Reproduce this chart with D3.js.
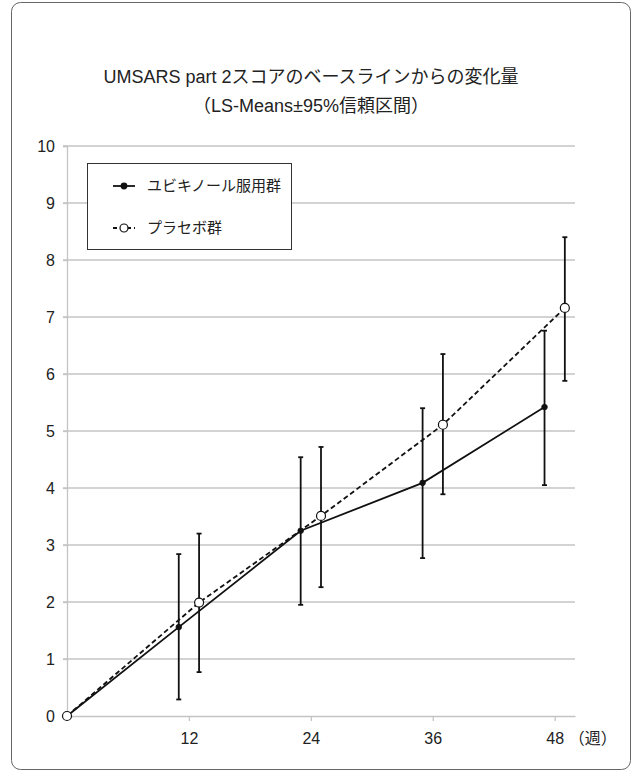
<!DOCTYPE html>
<html>
<head>
<meta charset="utf-8">
<script src="https://cdn.jsdelivr.net/npm/d3@7"></script>
<style>
  body { margin: 0; background: #fff; }
  svg text { font-family: "Liberation Sans", Arial, "Noto Sans CJK JP", sans-serif; fill: #222; }
</style>
</head>
<body>
<svg id="chart" width="632" height="772"></svg>
<script>
// 週
const weeks = [0, 12, 24, 36, 48]
const xTicks = [12, 24, 36, 48]
const yTicks = [0, 1, 2, 3, 4, 5, 6, 7, 8, 9, 10]

// ユビキノール服用群 (LS-Means と 95%CI)
const ubiMean = [0, 1.56, 3.25, 4.09, 5.42]
const ubiLow = [0, 0.29, 1.95, 2.77, 4.05]
const ubiHigh = [0, 2.84, 4.54, 5.40, 6.76]

// プラセボ群
const plaMean = [0, 1.99, 3.51, 5.11, 7.16]
const plaLow = [0, 0.77, 2.26, 3.89, 5.88]
const plaHigh = [0, 3.20, 4.72, 6.35, 8.40]

const titleLines = ['UMSARS part 2スコアのベースラインからの変化量', '（LS-Means±95%信頼区間）']
const legendNames = ['ユビキノール服用群', 'プラセボ群']

const svg = d3.select('#chart')

// 外枠
svg.append('rect')
    .attr('x', 11.5).attr('y', 2.5)
    .attr('width', 619).attr('height', 767)
    .attr('rx', 9)
    .attr('fill', '#fff')
    .attr('stroke', '#666')
    .attr('stroke-width', 1)

// タイトル
svg.selectAll('.title')
    .data(titleLines)
    .enter()
    .append('text')
    .attr('class', 'title')
    .attr('x', 311)
    .attr('y', (d, i) => 83 + i * 29)
    .attr('text-anchor', 'middle')
    .attr('font-size', 18)
    .text((d) => d)

// 比例尺
const x = d3.scaleLinear().domain([0, 50]).range([67, 575])
const y = d3.scaleLinear().domain([0, 10]).range([716, 146])

// 群ごとの横ずれ（週）
const shift = [-1, 1]

// グリッド線
svg.append('g')
    .selectAll('line')
    .data(yTicks.slice(1))
    .enter()
    .append('line')
    .attr('x1', x(0) - 4).attr('x2', x(50))
    .attr('y1', (d) => y(d)).attr('y2', (d) => y(d))
    .attr('stroke', '#c4c4c4')
    .attr('stroke-width', 1.3)

// Y軸
const yAxis = svg.append('g')
    .attr('transform', `translate(${x(0)},0)`)
    .call(d3.axisLeft(y).tickValues(yTicks).tickSize(4).tickPadding(8).tickFormat(d3.format('d')))
yAxis.select('.domain').attr('stroke', '#c4c4c4').attr('stroke-width', 1.3)
yAxis.selectAll('.tick line').attr('stroke', '#c4c4c4').attr('stroke-width', 1.3)
yAxis.selectAll('.tick text').attr('font-size', 16).attr('fill', '#222')

// X軸
const xAxis = svg.append('g')
    .attr('transform', `translate(0,${y(0)})`)
    .call(d3.axisBottom(x).tickValues(xTicks).tickSize(5).tickPadding(12).tickSizeOuter(0))
xAxis.select('.domain').attr('stroke', '#c4c4c4').attr('stroke-width', 1.3)
xAxis.selectAll('.tick line').attr('stroke', '#c4c4c4').attr('stroke-width', 1.3)
xAxis.selectAll('.tick text').attr('font-size', 16).attr('fill', '#222')

svg.append('text')
    .attr('x', x(48) + 14)
    .attr('y', y(0) + 28)
    .attr('font-size', 16)
    .text('（週）')

// 系列
const series = [
    { mean: ubiMean, low: ubiLow, high: ubiHigh, dash: null, open: false },
    { mean: plaMean, low: plaLow, high: plaHigh, dash: '5,3', open: true }
]

const line = d3.line()

series.forEach((s, k) => {
    const pts = weeks.map((w, i) => ({
        cx: x(i === 0 ? w : w + shift[k]),
        m: s.mean[i], lo: s.low[i], hi: s.high[i], i
    }))

    // 誤差棒
    const bars = svg.append('g')
    const eb = pts.filter((p) => p.i > 0)
    bars.selectAll('.v').data(eb).enter().append('line')
        .attr('x1', (p) => p.cx).attr('x2', (p) => p.cx)
        .attr('y1', (p) => y(p.lo)).attr('y2', (p) => y(p.hi))
        .attr('stroke', '#111').attr('stroke-width', 1.8)
    ;['lo', 'hi'].forEach((key) => {
        bars.selectAll('.c' + key).data(eb).enter().append('line')
            .attr('x1', (p) => p.cx - 2.5).attr('x2', (p) => p.cx + 2.5)
            .attr('y1', (p) => y(p[key])).attr('y2', (p) => y(p[key]))
            .attr('stroke', '#111').attr('stroke-width', 1.8)
    })

    // 折れ線
    svg.append('path')
        .attr('d', line(pts.map((p) => [p.cx, y(p.m)])))
        .attr('fill', 'none')
        .attr('stroke', '#111')
        .attr('stroke-width', 1.8)
        .attr('stroke-dasharray', s.dash)

    // マーカー
    svg.append('g').selectAll('circle').data(pts).enter().append('circle')
        .attr('cx', (p) => p.cx).attr('cy', (p) => y(p.m))
        .attr('r', s.open ? 4.5 : 2.8)
        .attr('fill', s.open ? '#fff' : '#111')
        .attr('stroke', '#111')
        .attr('stroke-width', s.open ? 1.2 : 0.8)
})

// 凡例
const legend = svg.append('g')
legend.append('rect')
    .attr('x', 87.5).attr('y', 163.5)
    .attr('width', 204).attr('height', 86)
    .attr('fill', '#fff')
    .attr('stroke', '#333')
    .attr('stroke-width', 1)

legendNames.forEach((name, k) => {
    const ly = 186 + k * 42
    const g = legend.append('g')
    g.append('line')
        .attr('x1', 113).attr('x2', 135)
        .attr('y1', ly).attr('y2', ly)
        .attr('stroke', '#111').attr('stroke-width', 1.8)
        .attr('stroke-dasharray', k === 1 ? '4,3' : null)
    g.append('circle')
        .attr('cx', 124).attr('cy', ly)
        .attr('r', k === 1 ? 4 : 2.8)
        .attr('fill', k === 1 ? '#fff' : '#111')
        .attr('stroke', '#111').attr('stroke-width', 1.2)
    g.append('text')
        .attr('x', 147).attr('y', ly + 5)
        .attr('font-size', 15)
        .text(name)
})
</script>
</body>
</html>
